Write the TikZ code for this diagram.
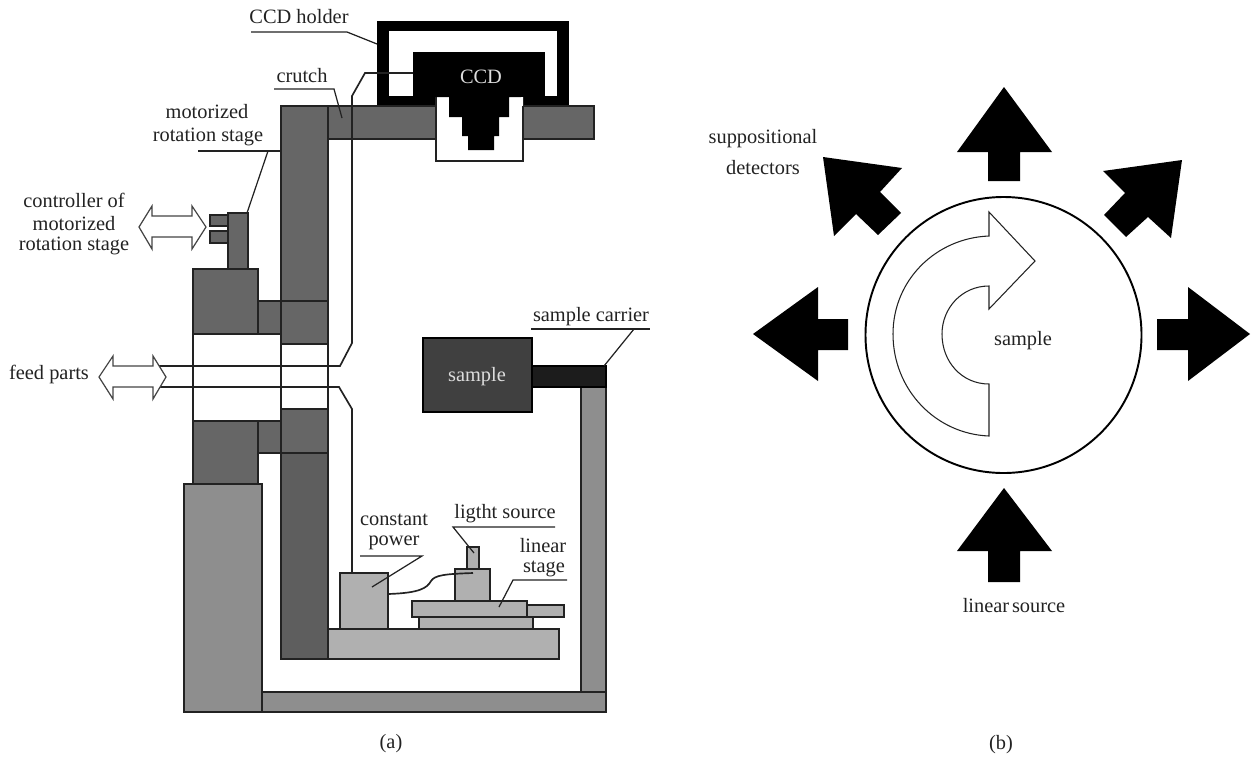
\documentclass[tikz,border=0pt]{standalone}
\usepackage{fontspec}
\setmainfont{Liberation Serif}
\usepackage{xcolor}
\definecolor{BodyGray}{HTML}{666666}
\definecolor{ColumnGray}{HTML}{5E5E5E}
\definecolor{BaseGray}{HTML}{8E8E8E}
\definecolor{BenchGray}{HTML}{B0B0B0}
\definecolor{SampleGray}{HTML}{404040}
\definecolor{CarrierGray}{HTML}{1C1C1C}
\definecolor{InkGray}{HTML}{222222}
\definecolor{ArrowGray}{HTML}{444444}
\definecolor{PaleText}{HTML}{DDDDDD}
\begin{document}
\begin{tikzpicture}[x=0.02cm,y=-0.02cm,line width=0.95pt,
    every node/.style={font=\fontsize{11.6}{13}\selectfont,text=InkGray,inner sep=0pt},
    body/.style={draw=InkGray,fill=BodyGray},
    column/.style={draw=InkGray,fill=ColumnGray},
    base/.style={draw=InkGray,fill=BaseGray},
    bench/.style={draw=InkGray,fill=BenchGray},
    hollow/.style={draw=InkGray,fill=white},
    openarrow/.style={draw=ArrowGray,fill=white,line width=0.7pt},
    wire/.style={draw=InkGray},
    leader/.style={draw=InkGray,line width=0.7pt},
    bigarrow/.style={fill=black}]
  \useasboundingbox (0,0) rectangle (1251,758);

  \fill[black] (377,21) rectangle (569,106);
  \fill[white] (389,31) rectangle (557,96);
  \fill[black] (413,52) rectangle (545,100);
  \draw[body] (328,106) rectangle (594,139);
  \draw[body] (281,106) rectangle (328,301);
  \draw[hollow] (436,97) -- (436,161) -- (523,161) -- (523,97);
  \fill[white] (436.5,97) rectangle (522.5,106);
  \fill[black] (436,96) -- (521,96) -- (521,97) -- (509,97) -- (509,117) -- (499,117) -- (499,136) -- (494,136) -- (494,150) -- (468,150) -- (468,136) -- (462,136) -- (462,117) -- (449,117) -- (449,97) -- (436,97) -- cycle;

  \draw[body] (281,301) rectangle (328,344);
  \draw[hollow] (281,344) rectangle (328,409);
  \draw[body] (281,409) rectangle (328,453);
  \draw[column] (281,453) rectangle (328,659);
  \draw[body] (193,269) rectangle (258,334);
  \draw[body] (258,301) rectangle (281,334);
  \draw[hollow] (193,334) rectangle (281,421);
  \draw[body] (193,421) rectangle (258,484);
  \draw[body] (258,421) rectangle (281,453);
  \draw[body] (228,213) rectangle (248,269);
  \draw[body] (210,215) rectangle (228,226);
  \draw[body] (210,231) rectangle (228,243);
  \draw[base] (184,484) rectangle (262,712);
  \draw[base] (262,692) rectangle (606,712);
  \draw[base] (581,387) rectangle (606,692);
  \draw[draw=black,fill=CarrierGray] (532,366) rectangle (606,387);
  \draw[draw=black,fill=SampleGray] (423,338) rectangle (532,412);

  \draw[bench] (328,629) rectangle (559,659);
  \draw[bench] (340,573) rectangle (388,629);
  \draw[bench] (419,617) rectangle (533,629);
  \draw[bench] (527,605) rectangle (564,617);
  \draw[bench] (412,601) rectangle (527,617);
  \draw[bench] (455,569) rectangle (490,601);
  \draw[bench] (467,547) rectangle (479,569);

  \coordinate (feedtop) at (155,366);
  \coordinate (feedtopk) at (340,366);
  \coordinate (feedup) at (352,343);
  \coordinate (feedupk) at (352,96);
  \coordinate (ccdk) at (365,73);
  \coordinate (ccdin) at (413,73);
  \coordinate (feedlow) at (155,387);
  \coordinate (feedlowk) at (339,387);
  \coordinate (feeddn) at (352,409);
  \coordinate (powertop) at (352,573);
  \coordinate (powerout) at (388,594);
  \coordinate (lampin) at (473,573);
  \draw[wire] (feedtop) -- (feedtopk) -- (feedup) -- (feedupk) -- (ccdk) -- (ccdin);
  \draw[wire] (feedlow) -- (feedlowk) -- (feeddn) -- (powertop);
  \draw[wire] (powerout) .. controls (420,593) and (427,588) .. (431,581) .. controls (435,575) and (445,574) .. (lampin);

  \draw[openarrow] (139,227) -- (152,206) -- (152,216) -- (192,216) -- (192,206) -- (206,227) -- (192,249) -- (192,237) -- (152,237) -- (152,249) -- cycle;
  \draw[openarrow] (99,377) -- (113,356) -- (113,366) -- (153,366) -- (153,356) -- (166,377) -- (153,399) -- (153,387) -- (113,387) -- (113,399) -- cycle;

  \node (ccdholderlbl) at (299,17) {CCD holder};
  \node (crutchlbl) at (302,76) {crutch};
  \node (motorlbla) at (207,112) {motorized};
  \node (motorlblb) at (208,137) {rotation stage};
  \node (ctrllbla) at (74,200) {controller of};
  \node (ctrllblb) at (74,224) {motorized};
  \node (ctrllblc) at (74,246) {rotation stage};
  \node (feedlbl) at (49,374) {feed parts};
  \node[text=PaleText] (ccdlbl) at (481,77) {CCD};
  \node[text=PaleText] (samplelbl) at (477,377) {sample};
  \node (carrierlbl) at (591,317) {sample carrier};
  \node (powerlbla) at (394,520) {constant};
  \node (powerlblb) at (394,543) {power};
  \node (lamplbl) at (505,514) {ligtht source};
  \node (stagelbla) at (543,546) {linear};
  \node (stagelblb) at (544,569) {stage};
  \node (alabel) at (391,744) {(a)};
  \node (blabel) at (1001,745) {(b)};

  \coordinate (l1a) at (251,32); \coordinate (l1b) at (347,32); \coordinate (l1c) at (377,44);
  \coordinate (l2a) at (274,89); \coordinate (l2b) at (334,89); \coordinate (l2c) at (342,118);
  \coordinate (l3a) at (198,151); \coordinate (l3b) at (281,151); \coordinate (l3k) at (268,151); \coordinate (l3c) at (247,213);
  \coordinate (l4a) at (531,329); \coordinate (l4b) at (650,329); \coordinate (l4k) at (634,329); \coordinate (l4c) at (604,366);
  \coordinate (l5a) at (360,556); \coordinate (l5b) at (422,556); \coordinate (l5c) at (372,587);
  \coordinate (l6a) at (555,527); \coordinate (l6b) at (453,527); \coordinate (l6c) at (474,553);
  \coordinate (l7a) at (567,580); \coordinate (l7b) at (513,580); \coordinate (l7c) at (499,607);
  \draw[leader] (l1a) -- (l1b) -- (l1c);
  \draw[leader] (l2a) -- (l2b) -- (l2c);
  \draw[leader] (l3a) -- (l3b);
  \draw[leader] (l3k) -- (l3c);
  \draw[leader] (l4a) -- (l4b);
  \draw[leader] (l4k) -- (l4c);
  \draw[leader] (l5a) -- (l5b) -- (l5c);
  \draw[leader] (l6a) -- (l6b) -- (l6c);
  \draw[leader] (l7a) -- (l7b) -- (l7c);

  \draw[draw=black,line width=1.1pt] (1003.5,335) circle[radius=138];
  \draw[draw=InkGray,line width=0.6pt,fill=white] (989,212) -- (1035,261) -- (989,309) -- (989,286) .. controls (962,286) and (942,308) .. (942,334) .. controls (942,362) and (962,384) .. (989,384) -- (989,436) .. controls (936,434) and (893,390) .. (893,334) .. controls (893,280) and (936,238) .. (989,236) -- cycle;

  \fill[bigarrow] (1004,87) -- (1052,152) -- (1020,152) -- (1020,181) -- (988,181) -- (988,152) -- (957,152) -- cycle;
  \fill[bigarrow] (1250,334) -- (1188,381) -- (1188,350) -- (1157,350) -- (1157,319) -- (1188,319) -- (1188,287) -- cycle;
  \fill[bigarrow] (753,334) -- (818,381) -- (818,350) -- (848,350) -- (848,319) -- (818,319) -- (818,287) -- cycle;
  \fill[bigarrow] (1004,488) -- (1052,551) -- (1020,551) -- (1020,582) -- (988,582) -- (988,551) -- (957,551) -- cycle;
  \fill[bigarrow] (823,157) -- (902,168) -- (880,192) -- (901,213) -- (878,235) -- (856,214) -- (834,236) -- cycle;
  \fill[bigarrow] (1182,160) -- (1103,171) -- (1125,193) -- (1104,215) -- (1126,237) -- (1148,217) -- (1171,238) -- cycle;

  \node (samplebl) at (1023,341) {sample};
  \node (detlbla) at (763,139) {suppositional};
  \node (detlblb) at (763,168) {detectors};
  \node (sourcelbl) at (1014,606) {linear\hspace{1.6pt}source};
\end{tikzpicture}
\end{document}
